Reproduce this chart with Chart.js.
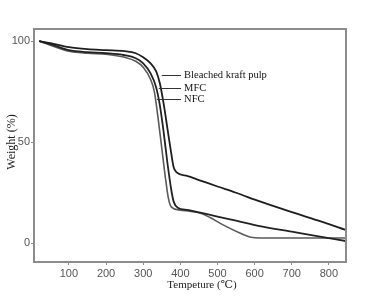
<!DOCTYPE html>
<html><head><meta charset="utf-8">
<script src="https://cdn.jsdelivr.net/npm/chart.js@4"></script>
<style>html,body{margin:0;padding:0;background:#fff;}canvas{display:block;}</style>
</head><body>
<canvas id="c" width="378" height="302"></canvas>
<script>
// Data (temperature °C, weight %)
const seriesNames = ["Bleached kraft pulp", "MFC", "NFC"];
const kraftTemp =   [20, 50, 100, 150, 200, 250, 280, 300, 320, 335, 345, 355, 365, 375, 382, 390, 420, 450, 500, 550, 614, 700, 780, 845];
const kraftWeight = [100, 99, 97, 96, 95.5, 95, 94, 92, 89, 85, 79, 69, 57, 45, 37.5, 35, 33.1, 31.2, 28, 24.9, 20.6, 15.3, 10.6, 6.5];
const mfcTemp =     [20, 50, 100, 150, 200, 250, 280, 300, 320, 335, 345, 355, 365, 375, 382, 393, 420, 450, 500, 550, 614, 700, 780, 845];
const mfcWeight =   [100, 98.5, 95.5, 94.5, 94, 93, 91.5, 89, 84, 77, 68, 55, 40, 27, 20.5, 17.5, 16.4, 15.2, 13.1, 11.1, 8.4, 5.6, 3, 1];
const nfcTemp =     [20, 50, 100, 150, 200, 250, 280, 300, 320, 330, 340, 350, 360, 368, 376, 400, 425, 453, 480, 515, 560, 590, 614, 700, 845];
const nfcWeight =   [100, 98, 95, 94, 93.5, 92, 90, 87, 81, 75, 62, 47, 32, 22, 17.8, 16.3, 15.7, 14.9, 12.6, 9, 5, 2.9, 2.5, 2.5, 2.5];
const xTickValues = [100, 200, 300, 400, 500, 600, 700, 800];
const yTickValues = [0, 50, 100];
// Label pointers: [curve temperature, weight level]
const pointerAnchors = [[350, 83.2], [342, 76.7], [337, 71.3]];
const labelTemp = 410;

const toPts = (xs, ys) => xs.map((x, i) => ({x: x, y: ys[i]}));

const frame = {
  id: 'frame',
  afterDraw(chart) {
    const {ctx, chartArea: a, scales} = chart;
    ctx.save();
    ctx.strokeStyle = '#8c8c8c';
    ctx.lineWidth = 2;
    ctx.strokeRect(a.left, a.top, a.right - a.left, a.bottom - a.top);
    // pointer lines + labels
    ctx.strokeStyle = '#333';
    ctx.lineWidth = 1;
    ctx.fillStyle = '#111';
    ctx.font = '10.5px "Liberation Serif", "DejaVu Serif", serif';
    ctx.textBaseline = 'middle';
    const lx = scales.x.getPixelForValue(labelTemp);
    pointerAnchors.forEach((p, i) => {
      const px = scales.x.getPixelForValue(p[0]);
      const py = Math.round(scales.y.getPixelForValue(p[1])) + 0.5;
      ctx.beginPath(); ctx.moveTo(px, py); ctx.lineTo(lx - 3, py); ctx.stroke();
      ctx.fillText(seriesNames[i], lx, py);
    });
    // axis titles
    ctx.fillStyle = '#222';
    ctx.font = '11px "Liberation Serif", "DejaVu Serif", serif';
    ctx.textAlign = 'center';
    ctx.fillText('Tempeture (℃)', 202, 285);
    ctx.font = '12px "Liberation Serif", "DejaVu Serif", serif';
    ctx.translate(12, 142);
    ctx.rotate(-Math.PI / 2);
    ctx.fillText('Weight (%)', 0, 0);
    ctx.restore();
  }
};

new Chart(document.getElementById('c'), {
  type: 'line',
  data: {
    datasets: [
      {label: seriesNames[0], data: toPts(kraftTemp, kraftWeight), borderColor: '#1e1e1e', borderWidth: 1.8},
      {label: seriesNames[1], data: toPts(mfcTemp, mfcWeight), borderColor: '#222', borderWidth: 1.8},
      {label: seriesNames[2], data: toPts(nfcTemp, nfcWeight), borderColor: '#5a5a5a', borderWidth: 1.6}
    ]
  },
  options: {
    responsive: false,
    animation: false,
    layout: {padding: {top: 29, right: 32, left: 0, bottom: 0}},
    elements: {point: {radius: 0}, line: {cubicInterpolationMode: 'monotone', fill: false}},
    plugins: {legend: {display: false}, tooltip: {enabled: false}},
    scales: {
      x: {
        type: 'linear', min: 6, max: 846,
        afterBuildTicks: s => { s.ticks = xTickValues.map(v => ({value: v})); },
        afterFit: s => { s.height = 40; },
        grid: {display: true, drawOnChartArea: false, drawTicks: true, tickLength: 3, color: '#888'},
        border: {display: false},
        ticks: {color: '#555', padding: 2, maxRotation: 0, font: {family: '"Liberation Sans Narrow", "Liberation Sans", sans-serif', size: 11}}
      },
      y: {
        min: -9.4, max: 106,
        afterBuildTicks: s => { s.ticks = yTickValues.map(v => ({value: v})); },
        afterFit: s => { s.width = 34; },
        grid: {display: true, drawOnChartArea: false, drawTicks: true, tickLength: 3, color: '#888'},
        border: {display: false},
        ticks: {color: '#555', padding: 1, font: {family: '"Liberation Sans Narrow", "Liberation Sans", sans-serif', size: 11}}
      }
    }
  },
  plugins: [frame]
});
</script>
</body></html>
